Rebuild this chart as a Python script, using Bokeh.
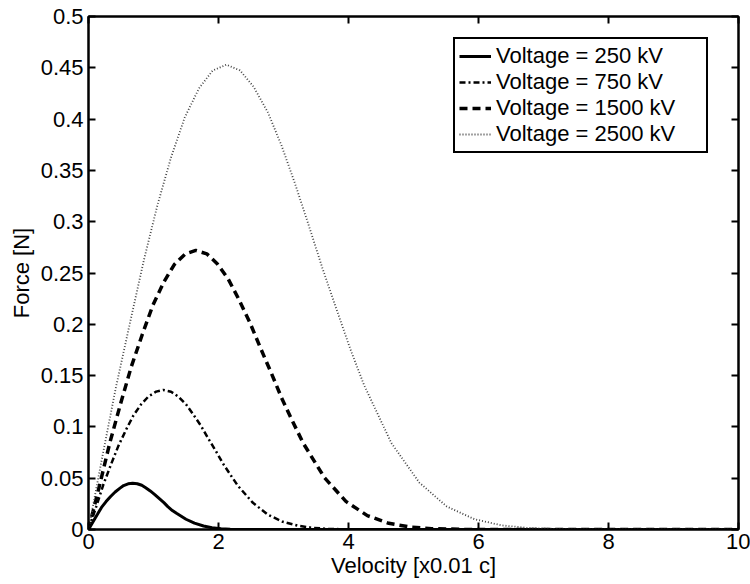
from bokeh.plotting import figure
from bokeh.models import Range1d, FixedTicker, LinearAxis, Legend, LegendItem
from bokeh.embed import file_html
from bokeh.resources import INLINE

# ---- data ----
x_ticks = [0, 2, 4, 6, 8, 10]
x_tick_labels = ["0", "2", "4", "6", "8", "10"]
y_ticks = [0, 0.05, 0.1, 0.15, 0.2, 0.25, 0.3, 0.35, 0.4, 0.45, 0.5]
y_tick_labels = ["0", "0.05", "0.1", "0.15", "0.2", "0.25", "0.3", "0.35", "0.4", "0.45", "0.5"]

series_labels = ["Voltage = 250 kV", "Voltage = 750 kV", "Voltage = 1500 kV", "Voltage = 2500 kV"]

v_250 = [0, 0.07, 0.14, 0.20, 0.27, 0.34, 0.41, 0.48, 0.54, 0.61, 0.68, 0.75, 0.82, 0.88, 0.95,
         1.02, 1.09, 1.16, 1.22, 1.29, 1.36, 1.50, 1.63, 1.77, 1.90, 2.04, 2.18, 2.38, 2.72, 10]
f_250 = [0, 0.0075, 0.0150, 0.0215, 0.0272, 0.0322, 0.0366, 0.0401, 0.0428, 0.0445, 0.0450, 0.0446,
         0.0431, 0.0407, 0.0376, 0.0340, 0.0301, 0.0262, 0.0223, 0.0185, 0.0155, 0.0100, 0.0062,
         0.0034, 0.0017, 0.0008, 0.0003, 0.0001, 0, 0]

v_750 = [0, 0.12, 0.23, 0.35, 0.46, 0.58, 0.69, 0.81, 0.92, 1.04, 1.15, 1.27, 1.38, 1.50, 1.61,
         1.73, 1.84, 1.96, 2.07, 2.19, 2.30, 2.53, 2.76, 2.99, 3.22, 3.45, 3.68, 4.03, 4.60, 10]
f_750 = [0, 0.0225, 0.0440, 0.0640, 0.0815, 0.0975, 0.1110, 0.1220, 0.1295, 0.1344, 0.1360, 0.1343,
         0.1296, 0.1220, 0.1123, 0.1011, 0.0889, 0.0764, 0.0642, 0.0527, 0.0425, 0.0260, 0.0145,
         0.0075, 0.0037, 0.0016, 0.0006, 0.0001, 0, 0]

v_1500 = [0, 0.17, 0.33, 0.50, 0.66, 0.83, 0.99, 1.16, 1.32, 1.49, 1.65, 1.82, 1.98, 2.15, 2.31,
          2.48, 2.64, 2.81, 2.97, 3.14, 3.30, 3.63, 3.96, 4.29, 4.62, 4.95, 5.28, 5.78, 6.60, 10]
f_1500 = [0, 0.0430, 0.0850, 0.1240, 0.1590, 0.1905, 0.2185, 0.2413, 0.2582, 0.2686, 0.2720, 0.2687,
          0.2591, 0.2441, 0.2247, 0.2021, 0.1778, 0.1528, 0.1284, 0.1054, 0.0845, 0.0505, 0.0274,
          0.0135, 0.0060, 0.0024, 0.0008, 0.0001, 0, 0]

v_2500 = [0, 0.21, 0.42, 0.64, 0.85, 1.06, 1.27, 1.48, 1.70, 1.91, 2.12, 2.33, 2.54, 2.76, 2.97,
          3.18, 3.39, 3.60, 3.82, 4.03, 4.24, 4.66, 5.09, 5.51, 5.94, 6.36, 6.78, 7.42, 8.48, 10]
f_2500 = [0, 0.0700, 0.1380, 0.2020, 0.2620, 0.3160, 0.3627, 0.4015, 0.4300, 0.4473, 0.4530, 0.4475,
          0.4315, 0.4065, 0.3742, 0.3366, 0.2961, 0.2545, 0.2138, 0.1755, 0.1407, 0.0842, 0.0457,
          0.0225, 0.0100, 0.0040, 0.0014, 0.0002, 0, 0]

FONT = "Liberation Sans"
FS = "22px"

p = figure(width=750, height=584, output_backend="svg", toolbar_location=None,
           x_range=Range1d(0, 10), y_range=Range1d(0, 0.5),
           min_border_left=88, min_border_right=12, min_border_top=16, min_border_bottom=55)
p.background_fill_color = "white"
p.border_fill_color = "white"
p.outline_line_color = "black"
p.outline_line_width = 2
p.xgrid.visible = False
p.ygrid.visible = False

xt = FixedTicker(ticks=x_ticks)
yt = FixedTicker(ticks=y_ticks)

def style_axis(ax, show_labels):
    ax.axis_line_color = "black"
    ax.axis_line_width = 2
    ax.major_tick_in = 7
    ax.major_tick_out = 0
    ax.major_tick_line_color = "black"
    ax.major_tick_line_width = 2
    ax.minor_tick_line_color = None
    ax.major_label_text_font = FONT
    if show_labels:
        ax.major_label_text_font_size = FS
        ax.major_label_text_color = "black"
    else:
        ax.major_label_text_font_size = "1px"
        ax.major_label_text_color = None
        ax.major_label_standoff = 0

xa = p.xaxis[0]
xa.ticker = xt
xa.major_label_overrides = {t: l for t, l in zip(x_ticks, x_tick_labels)}
style_axis(xa, True)
xa.major_label_standoff = 4
xa.axis_label = "Velocity [x0.01 c]"
xa.axis_label_text_font = FONT
xa.axis_label_text_font_size = FS
xa.axis_label_text_font_style = "normal"
xa.axis_label_text_color = "black"
xa.axis_label_standoff = 1

ya = p.yaxis[0]
ya.ticker = yt
ya.major_label_overrides = {t: l for t, l in zip(y_ticks, y_tick_labels)}
style_axis(ya, True)
ya.major_label_standoff = 5
ya.axis_label = "Force [N]"
ya.axis_label_text_font = FONT
ya.axis_label_text_font_size = FS
ya.axis_label_text_font_style = "normal"
ya.axis_label_text_color = "black"
ya.axis_label_standoff = 4

top = LinearAxis(ticker=xt)
style_axis(top, False)
p.add_layout(top, "above")
right = LinearAxis(ticker=yt)
style_axis(right, False)
p.add_layout(right, "right")

r1 = p.line(v_250, f_250, line_color="black", line_width=3)
r2 = p.line(v_750, f_750, line_color="black", line_width=2.5, line_dash="6 3 2 3")
r3 = p.line(v_1500, f_1500, line_color="black", line_width=3.5, line_dash="8 5")
r4 = p.line(v_2500, f_2500, line_color="#444444", line_width=1.8, line_dash="1 2")

legend = Legend(items=[LegendItem(label=series_labels[0], renderers=[r1]),
                       LegendItem(label=series_labels[1], renderers=[r2]),
                       LegendItem(label=series_labels[2], renderers=[r3]),
                       LegendItem(label=series_labels[3], renderers=[r4])],
                location=(365, 376), margin=0, padding=4, spacing=0,
                glyph_width=32, glyph_height=24, label_height=24, label_width=206,
                label_standoff=5, label_text_font=FONT, label_text_font_size=FS,
                label_text_color="black",
                border_line_color="black", border_line_width=2, border_line_alpha=1.0,
                background_fill_color="white", background_fill_alpha=1.0)
p.add_layout(legend)

open("out.html", "w").write(file_html(p, INLINE))
